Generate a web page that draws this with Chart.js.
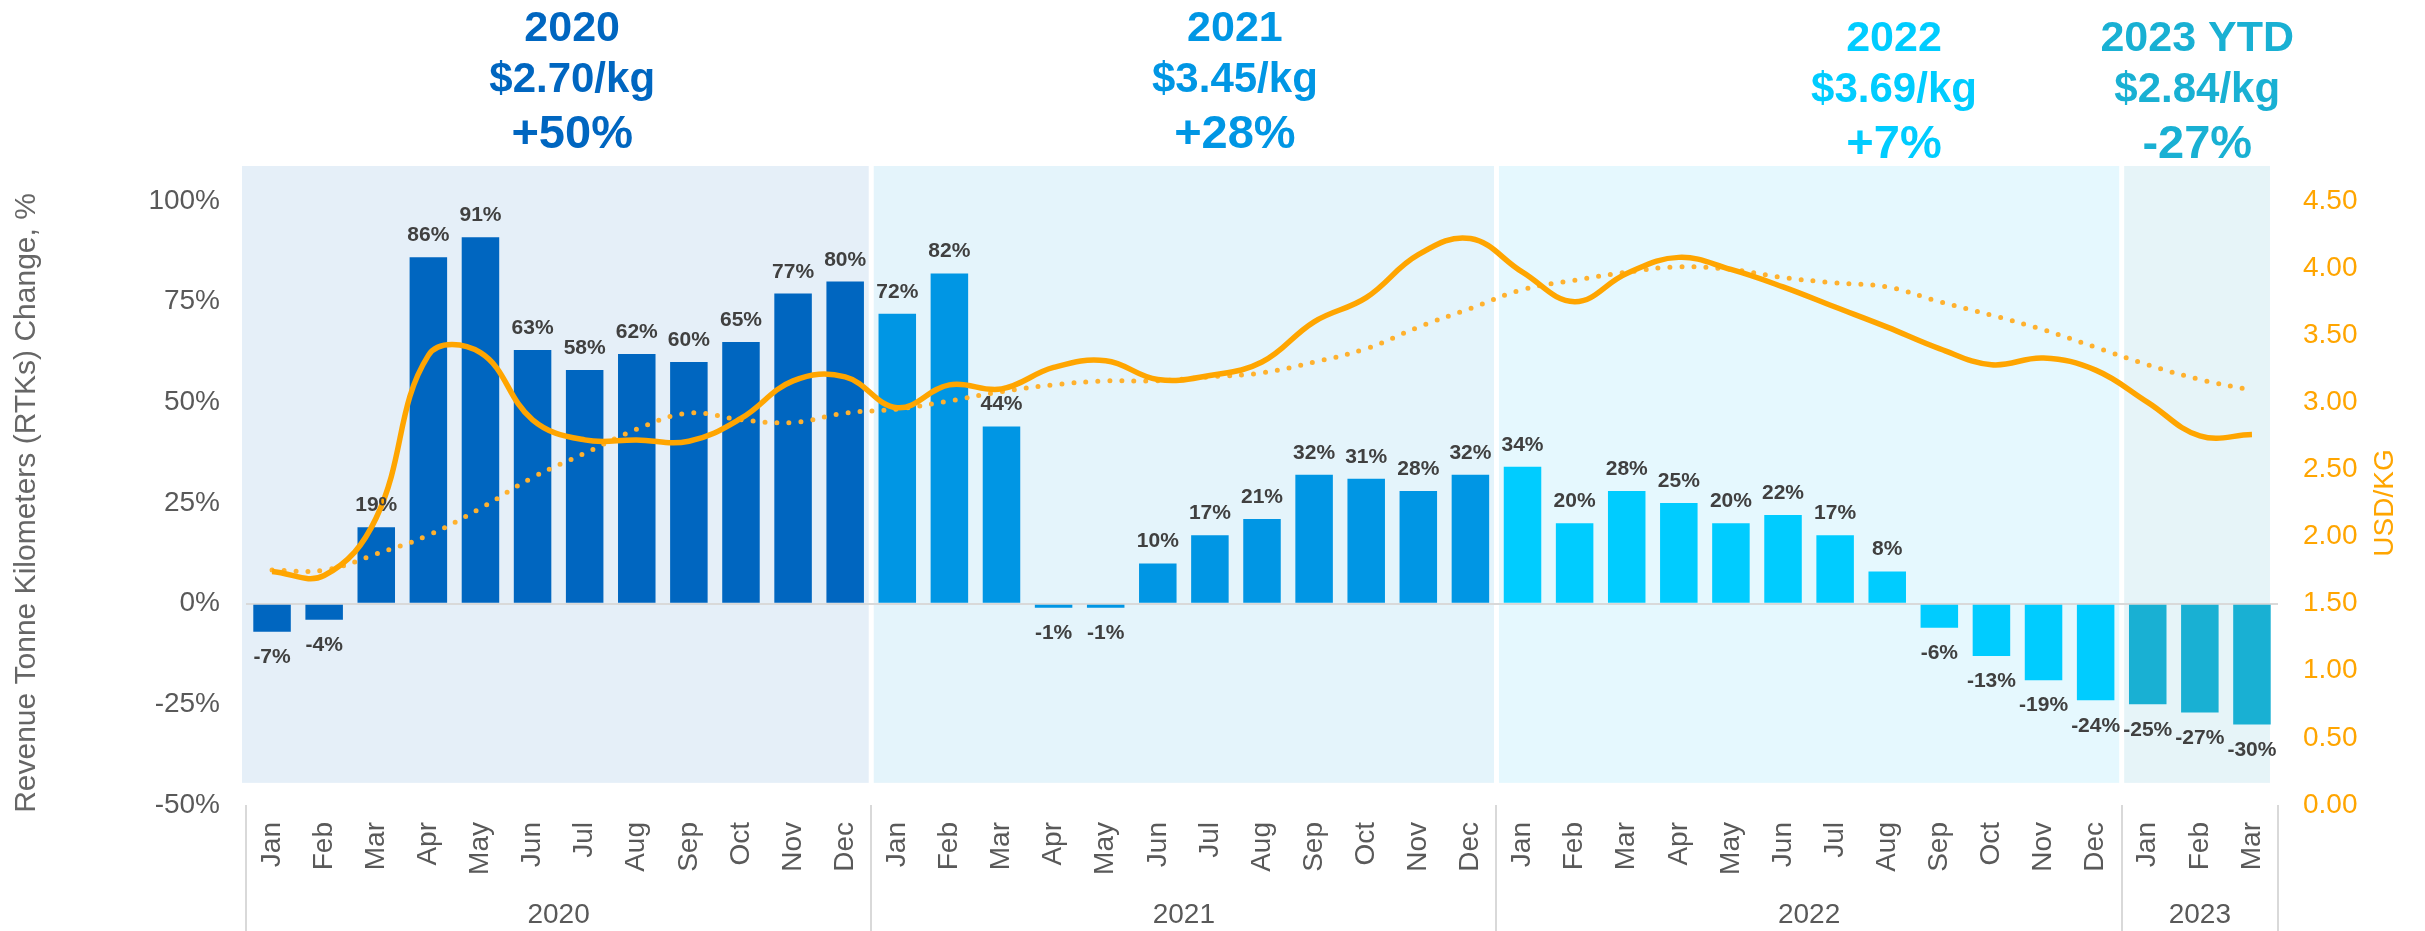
<!DOCTYPE html>
<html>
<head>
<meta charset="utf-8">
<script src="https://cdn.jsdelivr.net/npm/chart.js@4/dist/chart.umd.min.js"></script>
<style>
  html, body { margin: 0; padding: 0; background: #fff; }
  #wrap { width: 2425px; height: 931px; position: relative; }
</style>
</head>
<body>
<div id="wrap"><canvas id="rtk"></canvas></div>
<script>
// data
const months = ["Jan","Feb","Mar","Apr","May","Jun","Jul","Aug","Sep","Oct","Nov","Dec",
                "Jan","Feb","Mar","Apr","May","Jun","Jul","Aug","Sep","Oct","Nov","Dec",
                "Jan","Feb","Mar","Apr","May","Jun","Jul","Aug","Sep","Oct","Nov","Dec",
                "Jan","Feb","Mar"];
const years = ["2020", "2021", "2022", "2023"];
const monthsPerYear = [12, 12, 12, 3];

// RTK change vs same month of 2019, %
const rtkChange = [-7, -4, 19, 86, 91, 63, 58, 62, 60, 65, 77, 80,
                   72, 82, 44, -1, -1, 10, 17, 21, 32, 31, 28, 32,
                   34, 20, 28, 25, 20, 22, 17, 8, -6, -13, -19, -24,
                   -25, -27, -30];

// yield, USD/kg (solid) and its trend (dotted)
const yieldUsd = [1.74, 1.71, 2.14, 3.35, 3.37, 2.87, 2.72, 2.72, 2.71, 2.88, 3.16, 3.19,
                  2.96, 3.13, 3.10, 3.26, 3.31, 3.17, 3.20, 3.30, 3.60, 3.78, 4.10, 4.22,
                  3.97, 3.75, 3.96, 4.08, 3.99, 3.86, 3.71, 3.56, 3.40, 3.28, 3.33, 3.24,
                  3.00, 2.75, 2.76];
const yieldTrend = [1.75, 1.75, 1.87, 2.01, 2.21, 2.44, 2.62, 2.80, 2.92, 2.87, 2.85, 2.92,
                    2.95, 3.01, 3.08, 3.13, 3.16, 3.16, 3.19, 3.22, 3.30, 3.40, 3.56, 3.70,
                    3.84, 3.91, 3.97, 4.01, 3.99, 3.93, 3.89, 3.86, 3.75, 3.65, 3.54, 3.41,
                    3.28, 3.17, 3.09];

// year headers
const headerYears = ["2020", "2021", "2022", "2023 YTD"];
const headerYield = ["$2.70/kg", "$3.45/kg", "$3.69/kg", "$2.84/kg"];
const headerChange = ["+50%", "+28%", "+7%", "-27%"];

const groupColors = ["#0066C0", "#0096E4", "#00CCFF", "#19B0D3"];
const bandColors = ["#E5EFF8", "#E4F4FB", "#E5F8FE", "#E6F4F8"];
const orange = "#FFA500";
const FONT = '"Liberation Sans", Arial, Helvetica, sans-serif';

Chart.defaults.font.family = FONT;

// which year group each month is in
const groupOf = [];
monthsPerYear.forEach((n, g) => { for (let i = 0; i < n; i++) groupOf.push(g); });
const barColors = groupOf.map(g => groupColors[g]);

// boundaries between year groups, in category units
function groupEdges() {
  const edges = [-0.5];
  let acc = -0.5;
  monthsPerYear.forEach(n => { acc += n; edges.push(acc); });
  return edges;
}

const yearBands = {
  id: 'yearBands',
  beforeDraw(chart) {
    const { ctx, scales: { x, y } } = chart;
    const edges = groupEdges();
    const top = y.getPixelForValue(108.7);
    const bottom = y.getPixelForValue(-44.5);
    ctx.save();
    monthsPerYear.forEach((n, g) => {
      let l = x.getPixelForValue(edges[g]);
      let r = x.getPixelForValue(edges[g + 1]);
      l = g === 0 ? l - 4 : l + 2.5;
      r = g === monthsPerYear.length - 1 ? r - 8 : r - 2.5;
      ctx.fillStyle = bandColors[g];
      ctx.fillRect(l, top, r - l, bottom - top);
    });
    ctx.restore();
  },
  afterDraw(chart) {
    const { ctx, scales: { x, y } } = chart;
    const edges = groupEdges();
    ctx.save();
    // separators under the month labels
    ctx.strokeStyle = '#D9D9D9';
    ctx.lineWidth = 2;
    edges.forEach(e => {
      const px = Math.round(x.getPixelForValue(e));
      ctx.beginPath();
      ctx.moveTo(px, y.bottom);
      ctx.lineTo(px, chart.height);
      ctx.stroke();
    });
    // year labels
    ctx.fillStyle = '#595959';
    ctx.font = '28px ' + FONT;
    ctx.textAlign = 'center';
    ctx.textBaseline = 'alphabetic';
    let start = 0;
    monthsPerYear.forEach((n, g) => {
      ctx.fillText(years[g], x.getPixelForValue(start + (n - 1) / 2), 923);
      start += n;
    });
    // headers above the plot
    const pos = [5.76, 18.48, 31.13, 36.95];
    const shift = [0, 0, 10, 10];
    headerYears.forEach((t, g) => {
      const cx = x.getPixelForValue(pos[g]);
      ctx.fillStyle = groupColors[g];
      ctx.font = 'bold 43px ' + FONT;
      ctx.fillText(t, cx, 41 + shift[g]);
      ctx.font = 'bold 42px ' + FONT;
      ctx.fillText(headerYield[g], cx, 92 + shift[g]);
      ctx.font = 'bold 47px ' + FONT;
      ctx.fillText(headerChange[g], cx, 148 + shift[g]);
    });
    // right axis title, reading upward
    ctx.translate(chart.width - 40, (y.top + y.bottom) / 2);
    ctx.rotate(-Math.PI / 2);
    ctx.fillStyle = orange;
    ctx.font = '28px ' + FONT;
    ctx.textBaseline = 'middle';
    ctx.fillText('USD/KG', 0, 0);
    ctx.restore();
  }
};

const barLabels = {
  id: 'barLabels',
  afterDatasetsDraw(chart) {
    const { ctx } = chart;
    const meta = chart.getDatasetMeta(2);
    ctx.save();
    ctx.fillStyle = '#404040';
    ctx.font = 'bold 21px ' + FONT;
    ctx.textAlign = 'center';
    meta.data.forEach((bar, i) => {
      const v = rtkChange[i];
      if (v >= 0) {
        ctx.textBaseline = 'alphabetic';
        ctx.fillText(v + '%', bar.x, bar.y - 16);
      } else {
        ctx.textBaseline = 'top';
        ctx.fillText(v + '%', bar.x, bar.y + 15);
      }
    });
    ctx.restore();
  }
};

new Chart(document.getElementById('rtk'), {
  type: 'bar',
  data: {
    labels: months,
    datasets: [
      {
        type: 'line',
        label: 'Yield',
        data: yieldUsd,
        yAxisID: 'y1',
        borderColor: orange,
        borderWidth: 5.5,
        pointRadius: 0,
        tension: 0.4,
        order: 0
      },
      {
        type: 'line',
        label: 'Yield trend',
        data: yieldTrend,
        yAxisID: 'y1',
        borderColor: '#FFB12E',
        borderWidth: 5,
        borderDash: [0, 12],
        borderCapStyle: 'round',
        pointRadius: 0,
        tension: 0.4,
        order: 1
      },
      {
        type: 'bar',
        label: 'RTK change',
        data: rtkChange,
        yAxisID: 'y',
        backgroundColor: barColors,
        order: 2
      }
    ]
  },
  options: {
    responsive: true,
    maintainAspectRatio: false,
    animation: false,
    layout: { padding: { top: 201, left: 0, right: 0, bottom: 0 } },
    plugins: {
      legend: { display: false },
      tooltip: { enabled: false }
    },
    scales: {
      x: {
        offset: true,
        grid: { display: false, drawTicks: false },
        border: { display: false },
        ticks: {
          autoSkip: false,
          minRotation: 90,
          maxRotation: 90,
          padding: 17,
          color: '#595959',
          font: { size: 28 }
        },
        afterFit(s) { s.height = 126; }
      },
      y: {
        position: 'left',
        min: -50,
        max: 100,
        ticks: {
          stepSize: 25,
          padding: 26,
          color: '#595959',
          font: { size: 28 },
          callback: v => v + '%'
        },
        grid: {
          drawTicks: false,
          lineWidth: 2,
          color: c => (c.tick && c.tick.value === 0) ? '#D9D9D9' : 'rgba(0,0,0,0)'
        },
        border: { display: false },
        title: {
          display: true,
          text: 'Revenue Tonne Kilometers (RTKs) Change, %',
          color: '#666666',
          font: { size: 30 },
          padding: { top: 9, bottom: 0 }
        },
        afterFit(s) { s.width = 246; }
      },
      y1: {
        position: 'right',
        min: 0,
        max: 4.5,
        ticks: {
          stepSize: 0.5,
          padding: 25,
          color: orange,
          font: { size: 28 },
          callback: v => v.toFixed(2)
        },
        grid: { display: false, drawTicks: false },
        border: { display: false },
        afterFit(s) { s.width = 147; }
      }
    }
  },
  plugins: [yearBands, barLabels]
});
</script>
</body>
</html>
